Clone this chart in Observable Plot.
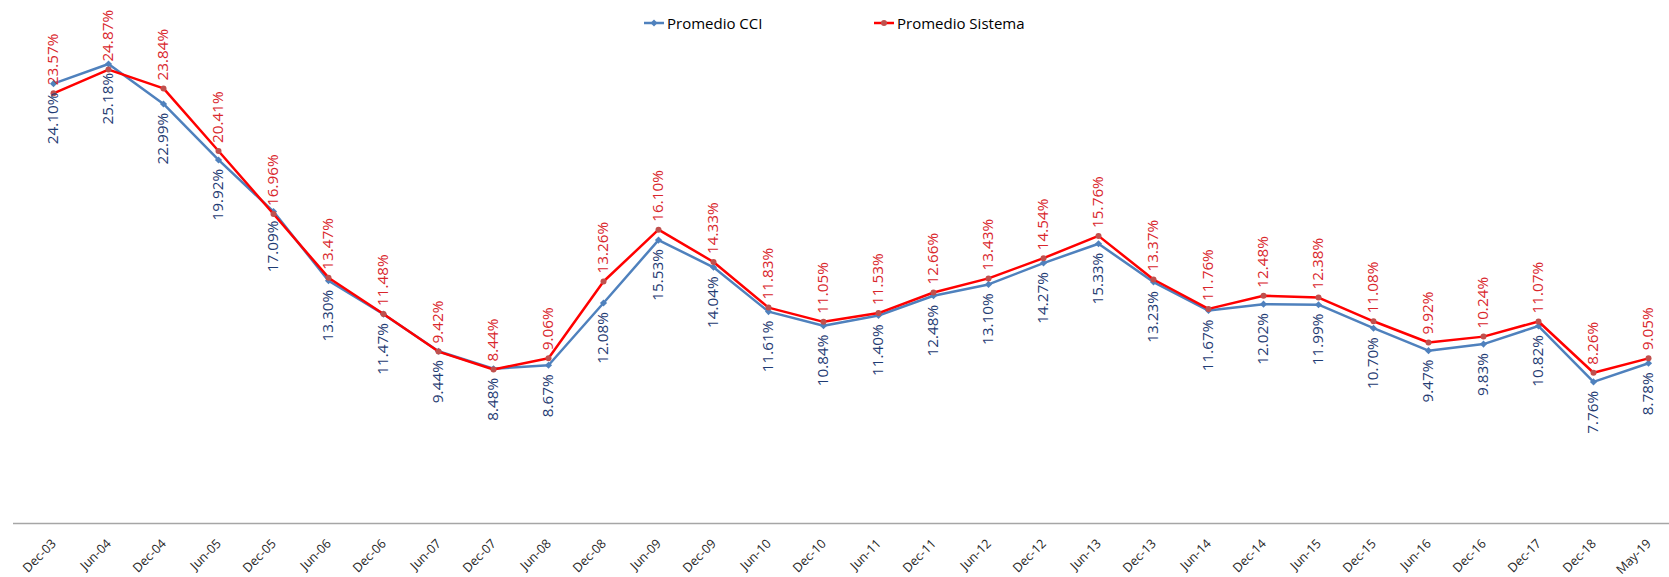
<!DOCTYPE html>
<html><head><meta charset="utf-8">
<script src="https://cdn.jsdelivr.net/npm/d3@7"></script>
<script src="https://cdn.jsdelivr.net/npm/@observablehq/plot@0.6"></script>
<style>
body{margin:0;background:#fff;font-family:"Open Sans",sans-serif;}
#wrap{position:relative;width:1669px;height:577px;overflow:hidden;background:#fff}
.leg{position:absolute;top:13px;font-size:15px;line-height:20px;display:flex;align-items:center;color:#000;white-space:nowrap}
.leg svg{margin-right:3px}
</style></head><body>
<div id="wrap"><div id="chart"></div></div>
<script>
const periods = ["Dec-03","Jun-04","Dec-04","Jun-05","Dec-05","Jun-06","Dec-06","Jun-07","Dec-07","Jun-08",
  "Dec-08","Jun-09","Dec-09","Jun-10","Dec-10","Jun-11","Dec-11","Jun-12","Dec-12","Jun-13",
  "Dec-13","Jun-14","Dec-14","Jun-15","Dec-15","Jun-16","Dec-16","Dec-17","Dec-18","May-19"];
const promedioCCI = [24.10,25.18,22.99,19.92,17.09,13.30,11.47,9.44,8.48,8.67,
  12.08,15.53,14.04,11.61,10.84,11.40,12.48,13.10,14.27,15.33,
  13.23,11.67,12.02,11.99,10.70,9.47,9.83,10.82,7.76,8.78];
const promedioSistema = [23.57,24.87,23.84,20.41,16.96,13.47,11.48,9.42,8.44,9.06,
  13.26,16.10,14.33,11.83,11.05,11.53,12.66,13.43,14.54,15.76,
  13.37,11.76,12.48,12.38,11.08,9.92,10.24,11.07,8.26,9.05];
const seriesNames = ["Promedio CCI","Promedio Sistema"];

const cciRows = periods.map((p,i)=>({period:p, value:promedioCCI[i]/100}));
const sisRows = periods.map((p,i)=>({period:p, value:promedioSistema[i]/100}));
const fmt = d => (d.value*100).toFixed(2) + "%";

const blue = "#4f81bd", red = "#ff0000", redMarker = "#c0504d";
const F = "Open Sans";

const chart = Plot.plot({
  width: 1669, height: 577,
  marginTop: 0, marginBottom: 54, marginLeft: 13, marginRight: 0,
  style: {fontFamily: F, background: "white"},
  x: {type: "point", domain: periods, range: [43, 1658], padding: 0, axis: null},
  y: {domain: [0, 523/18.25/100], axis: null},
  marks: [
    Plot.ruleY([0], {stroke: "#a6a6a6", strokeWidth: 1.5}),
    Plot.text(periods, {x: d => d, frameAnchor: "bottom", text: d => d, rotate: -45,
      textAnchor: "end", lineAnchor: "middle", dx: 0.5, dy: 18, fontSize: 12.6, fill: "#262626", fontFamily: F}),
    Plot.line(cciRows, {x: "period", y: "value", stroke: blue, strokeWidth: 2.5}),
    Plot.dot(cciRows, {x: "period", y: "value", symbol: "diamond2", fill: blue, stroke: "none", r: 3.2}),
    Plot.line(sisRows, {x: "period", y: "value", stroke: red, strokeWidth: 2.5}),
    Plot.dot(sisRows, {x: "period", y: "value", symbol: "circle", fill: redMarker, stroke: "none", r: 3}),
    Plot.text(cciRows, {x: "period", y: "value", text: fmt, rotate: -90, textAnchor: "end", dy: 9, fill: "#1f3b73", fontSize: 15.3, fontFamily: F}),
    Plot.text(sisRows, {x: "period", y: "value", text: fmt, rotate: -90, textAnchor: "start", dy: -8, fill: "#d9262c", fontSize: 15.3, fontFamily: F})
  ]
});
document.getElementById("chart").appendChild(chart);

const wrap = document.getElementById("wrap");
const legendItems = [
  {name: seriesNames[0], color: blue, marker: "diamond", left: 644},
  {name: seriesNames[1], color: red, mcolor: redMarker, marker: "circle", left: 874}
];
for (const it of legendItems) {
  const div = document.createElement("div");
  div.className = "leg";
  div.style.left = it.left + "px";
  const m = it.marker === "diamond"
    ? `<path d="M10,1.5L13.5,5L10,8.5L6.5,5Z" fill="${it.color}"/>`
    : `<circle cx="10" cy="5" r="3" fill="${it.mcolor}"/>`;
  div.innerHTML = `<svg width="20" height="10"><line x1="0" x2="20" y1="5" y2="5" stroke="${it.color}" stroke-width="2.5"/>${m}</svg><span>${it.name}</span>`;
  wrap.appendChild(div);
}
</script>
</body></html>
